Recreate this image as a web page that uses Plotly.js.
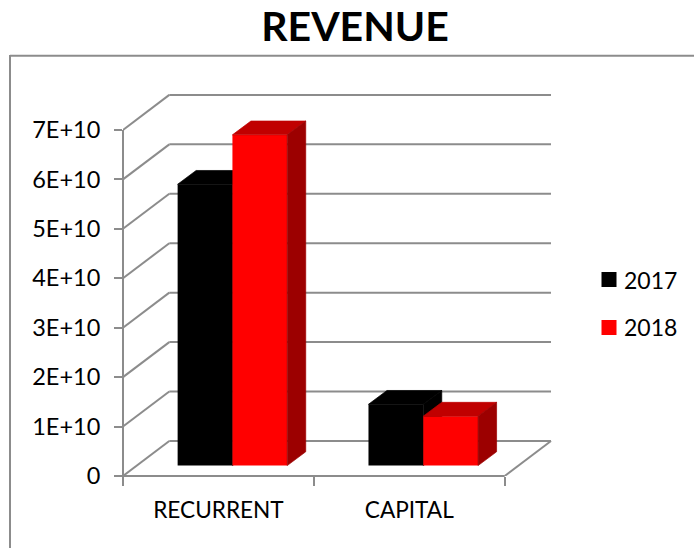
<!DOCTYPE html>
<html>
<head>
<meta charset="utf-8">
<script src="https://cdn.plot.ly/plotly-3.0.1.min.js"></script>
<style>html,body{margin:0;padding:0;background:#fff;overflow:hidden}#c{width:694px;height:548px}</style>
</head>
<body>
<div id="c"></div>
<script>
var categories = ["RECURRENT", "CAPITAL"];
var series2017 = [5.69e10, 1.24e10];
var series2018 = [6.69e10, 1.0e10];
var yTickVals = [0, 1e10, 2e10, 3e10, 4e10, 5e10, 6e10, 7e10];
var yTickText = ["0", "1E+10", "2E+10", "3E+10", "4E+10", "5E+10", "6E+10", "7E+10"];

var plotL = 123, plotR = 555, plotT = 91, plotB = 475.7;
var pxX = 190.85, pxY = 49.4 / 1e10;
var wallDx = 46.3 / pxX, wallDy = 35 / pxY;
var frontDx = 14 / pxX, frontDy = 10.4 / pxY;
var barW = 54.8 / pxX, barDx = 18.5 / pxX, barDy = 13.8 / pxY;
var gray = "#8c8c8c", font = "Lato, 'Open Sans', sans-serif";
var xs = categories.map(function (_, i) { return i; });
var xMin = -0.5, xMax = categories.length - 0.5;
var xEnd = xMin + (plotR - plotL) / pxX, yMax = (plotB - plotT) / pxY;
function paperX(px) { return (px - plotL) / (plotR - plotL); }
function paperY(py) { return (plotB - py) / (plotB - plotT); }

function faces(vals, offset, kind) {
  var X = [], Y = [];
  vals.forEach(function (v, i) {
    var l = i + frontDx + offset, r = l + barW, b = frontDy, t = frontDy + v, p;
    if (kind === "top") p = [[l, t], [r, t], [r + barDx, t + barDy], [l + barDx, t + barDy], [l, t]];
    else p = [[r, b], [r + barDx, b + barDy], [r + barDx, t + barDy], [r, t], [r, b]];
    p.forEach(function (q) { X.push(q[0]); Y.push(q[1]); });
    X.push(null); Y.push(null);
  });
  return { X: X, Y: Y };
}
function faceTrace(vals, offset, kind, color, xa, ya) {
  var f = faces(vals, offset, kind);
  return { type: "scatter", mode: "lines", x: f.X, y: f.Y, fill: "toself", fillcolor: color,
           line: { width: 0.7, color: color }, showlegend: false, hoverinfo: "skip", xaxis: xa, yaxis: ya };
}
function barTrace(name, vals, color, offset, xa, ya) {
  return { type: "bar", name: name, x: xs.map(function (i) { return i + frontDx; }), y: vals,
           base: vals.map(function () { return frontDy; }), width: barW, offset: offset,
           marker: { color: color }, showlegend: false, hoverinfo: "skip", xaxis: xa, yaxis: ya };
}
function legendTrace(name, color) {
  return { type: "scatter", mode: "markers", name: name, x: [null], y: [null], legendgroup: name,
           marker: { symbol: "square", size: 15, color: color }, hoverinfo: "skip" };
}

var data = [
  barTrace("2017", series2017, "#000000", -barW, "x", "y"),
  faceTrace(series2017, -barW, "top", "#000000", "x", "y"),
  faceTrace(series2017, -barW, "side", "#000000", "x", "y"),
  faceTrace(series2018, 0, "top", "#c00000", "x2", "y2"),
  faceTrace(series2018, 0, "side", "#9c0000", "x2", "y2"),
  barTrace("2018", series2018, "#ff0000", 0, "x2", "y2"),
  legendTrace("2017", "#000000"),
  legendTrace("2018", "#ff0000")
];

var shapes = [];
function seg(x0, y0, x1, y1, xref, yref) {
  shapes.push({ type: "line", layer: "below", xref: xref || "x", yref: yref || "y",
                x0: x0, y0: y0, x1: x1, y1: y1, line: { color: gray, width: 2 } });
}
yTickVals.forEach(function (v) {
  seg(xMin, v, xMin + wallDx, v + wallDy);
  seg(xMin + wallDx, v + wallDy, xMax + wallDx, v + wallDy);
});
seg(xMax, 0, xMax + wallDx, wallDy);
// front axis lines, in paper units so they are not clipped by the plot area
seg(0, 0, 0, yTickVals[yTickVals.length - 1] / yMax, "paper", "paper");
seg(-8 / (plotR - plotL), 0, (xMax - xMin) / (xEnd - xMin), 0, "paper", "paper");
// chart frame
seg(paperX(10), paperY(55.7), paperX(700), paperY(55.7), "paper", "paper");
seg(paperX(10), paperY(55), paperX(10), paperY(555), "paper", "paper");

var layout = {
  width: 694, height: 548, showlegend: true, paper_bgcolor: "#fff", plot_bgcolor: "rgba(0,0,0,0)",
  margin: { l: plotL, r: 694 - plotR, t: plotT, b: 548 - plotB, pad: 0, autoexpand: false },
  barmode: "overlay",
  title: { text: "<b>REVENUE</b>", x: 355 / 694, xanchor: "center", xref: "container", y: 1 - 27 / 548, yanchor: "middle",
           yref: "container", font: { family: font, size: 41, color: "#000" } },
  font: { family: font, color: "#000" },
  xaxis: { range: [xMin, xEnd], tickvals: xs, ticktext: categories, ticks: "", showgrid: false, zeroline: false,
           showline: false, tickfont: { size: 22.6, family: font, color: "#000" }, ticklabelstandoff: 18,
           minor: { tickvals: [-0.5, 0.5, 1.5], ticks: "outside", ticklen: 9, tickwidth: 2, tickcolor: gray, showgrid: false } },
  yaxis: { range: [0, yMax], tickvals: yTickVals, ticktext: yTickText, ticks: "outside", ticklen: 8, tickwidth: 2,
           tickcolor: gray, showgrid: false, zeroline: false, showline: false,
           tickfont: { size: 23.5, family: font, color: "#000" }, ticklabelstandoff: 9 },
  xaxis2: { range: [xMin, xEnd], overlaying: "x", visible: false, anchor: "y2" },
  yaxis2: { range: [0, yMax], overlaying: "y", visible: false, anchor: "x2" },
  legend: { x: paperX(589), xanchor: "left", y: paperY(258), yanchor: "top", tracegroupgap: 15,
            font: { size: 23, family: font, color: "#000" }, bgcolor: "rgba(0,0,0,0)", itemclick: false, itemdoubleclick: false },
  shapes: shapes
};
Plotly.newPlot("c", data, layout, { displayModeBar: false, staticPlot: true }).then(function (gd) {
  gd.querySelectorAll(".legendtext").forEach(function (t) {
    t.setAttribute("x", parseFloat(t.getAttribute("x")) - 5);
  });
});
</script>
</body>
</html>
